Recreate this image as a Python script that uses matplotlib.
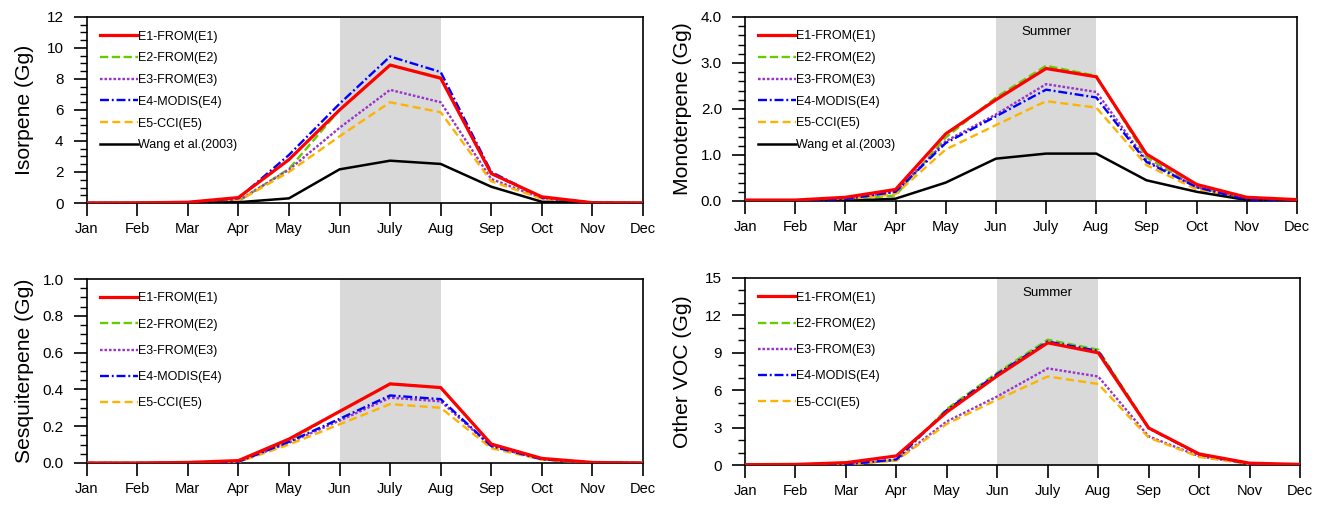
import numpy as np
import matplotlib.pyplot as plt
from matplotlib.ticker import MultipleLocator, FormatStrFormatter

plt.rcParams['font.family'] = ['Liberation Sans', 'DejaVu Sans']

months = ["Jan", "Feb", "Mar", "Apr", "May", "Jun", "July", "Aug", "Sep", "Oct", "Nov", "Dec"]
labels = ["E1-FROM(E1)", "E2-FROM(E2)", "E3-FROM(E3)", "E4-MODIS(E4)", "E5-CCI(E5)", "Wang et al.(2003)"]

# isoprene (Gg)
iso_e1 = [0.0, 0.01, 0.05, 0.35, 2.8, 6.0, 8.9, 8.05, 1.9, 0.4, 0.02, 0.0]
iso_e2 = [0.0, 0.0, 0.03, 0.12, 2.2, 6.0, 8.9, 8.1, 1.9, 0.35, 0.02, 0.0]
iso_e3 = [0.0, 0.0, 0.03, 0.15, 2.15, 4.85, 7.3, 6.5, 1.55, 0.3, 0.01, 0.0]
iso_e4 = [0.0, 0.0, 0.04, 0.3, 3.1, 6.4, 9.45, 8.45, 2.0, 0.35, 0.02, 0.0]
iso_e5 = [0.0, 0.0, 0.03, 0.12, 2.0, 4.3, 6.5, 5.85, 1.4, 0.28, 0.01, 0.0]
iso_wang = [0.0, 0.0, 0.0, 0.05, 0.3, 2.17, 2.73, 2.52, 1.05, 0.08, 0.0, 0.0]

# monoterpene (Gg)
mono_e1 = [0.02, 0.02, 0.08, 0.25, 1.46, 2.2, 2.88, 2.7, 1.02, 0.36, 0.08, 0.03]
mono_e2 = [0.0, 0.0, 0.03, 0.12, 1.38, 2.25, 2.94, 2.72, 0.95, 0.3, 0.05, 0.02]
mono_e3 = [0.0, 0.0, 0.04, 0.2, 1.3, 1.88, 2.54, 2.37, 0.88, 0.3, 0.03, 0.01]
mono_e4 = [0.0, 0.0, 0.04, 0.2, 1.26, 1.84, 2.42, 2.25, 0.85, 0.3, 0.03, 0.01]
mono_e5 = [0.0, 0.0, 0.03, 0.15, 1.12, 1.65, 2.17, 2.03, 0.78, 0.25, 0.02, 0.01]
mono_wang = [0.0, 0.0, 0.0, 0.05, 0.4, 0.92, 1.03, 1.03, 0.45, 0.2, 0.02, 0.0]

# sesquiterpene (Gg)
sesq_e1 = [0.0, 0.0, 0.003, 0.013, 0.13, 0.28, 0.43, 0.41, 0.103, 0.025, 0.003, 0.0]
sesq_e2 = [0.0, 0.0, 0.001, 0.005, 0.12, 0.28, 0.43, 0.41, 0.1, 0.022, 0.002, 0.0]
sesq_e3 = [0.0, 0.0, 0.001, 0.006, 0.11, 0.23, 0.355, 0.335, 0.09, 0.02, 0.002, 0.0]
sesq_e4 = [0.0, 0.0, 0.001, 0.007, 0.115, 0.24, 0.367, 0.347, 0.092, 0.02, 0.002, 0.0]
sesq_e5 = [0.0, 0.0, 0.001, 0.005, 0.1, 0.21, 0.32, 0.3, 0.08, 0.018, 0.001, 0.0]

# other VOC (Gg)
ovoc_e1 = [0.03, 0.05, 0.19, 0.73, 4.25, 7.15, 9.8, 9.0, 2.97, 0.89, 0.15, 0.05]
ovoc_e2 = [0.0, 0.01, 0.05, 0.4, 4.5, 7.4, 10.05, 9.25, 3.0, 0.85, 0.1, 0.03]
ovoc_e3 = [0.0, 0.01, 0.05, 0.4, 3.5, 5.5, 7.75, 7.1, 2.3, 0.7, 0.1, 0.02]
ovoc_e4 = [0.0, 0.01, 0.05, 0.45, 4.4, 7.3, 9.9, 9.15, 2.95, 0.85, 0.1, 0.03]
ovoc_e5 = [0.0, 0.01, 0.04, 0.35, 3.3, 5.25, 7.1, 6.5, 2.2, 0.65, 0.08, 0.02]

styles = [
    dict(color='#ff0000', lw=2.3, ls='-', zorder=6),
    dict(color='#66cc00', lw=1.7, ls=(0, (3.5, 1.5)), zorder=3),
    dict(color='#9933cc', lw=1.7, ls=(0, (1.1, 0.8)), zorder=3),
    dict(color='#0000ff', lw=1.7, ls=(0, (3.8, 1.2, 0.8, 1.2)), zorder=4),
    dict(color='#ffb300', lw=1.7, ls=(0, (3.4, 1.8)), zorder=3),
    dict(color='#000000', lw=1.8, ls='-', zorder=3),
]

panels = [
    dict(series=[iso_e1, iso_e2, iso_e3, iso_e4, iso_e5, iso_wang], ylabel="Isorpene (Gg)",
         ylim=12, major=2, minor=0.5, fmt='%d', summer=False,
         rect=[0.0652, 0.5996, 0.4186, 0.3669], lspace=0.78),
    dict(series=[mono_e1, mono_e2, mono_e3, mono_e4, mono_e5, mono_wang], ylabel="Monoterpene (Gg)",
         ylim=4, major=1, minor=0.2, fmt='%.1f', summer=True,
         rect=[0.5606, 0.6036, 0.4153, 0.3629], lspace=0.78),
    dict(series=[sesq_e1, sesq_e2, sesq_e3, sesq_e4, sesq_e5], ylabel="Sesquiterpene (Gg)",
         ylim=1, major=0.2, minor=0.05, fmt='%.1f', summer=False,
         rect=[0.0652, 0.0868, 0.4186, 0.3629], lspace=1.14),
    dict(series=[ovoc_e1, ovoc_e2, ovoc_e3, ovoc_e4, ovoc_e5], ylabel="Other VOC (Gg)",
         ylim=15, major=3, minor=1, fmt='%d', summer=True,
         rect=[0.5606, 0.0828, 0.4176, 0.3689], lspace=1.14),
]

fig = plt.figure(figsize=(13.29, 5.07), dpi=100)
x = np.arange(len(months))

for p in panels:
    ax = fig.add_axes(p['rect'])
    ax.axvspan(5, 7, color='#d9d9d9', lw=0, zorder=1)
    if p['summer']:
        ax.text(6, 0.92 * p['ylim'], "Summer", ha='center', va='center', fontsize=9.5, zorder=2)
    order = list(range(1, len(p['series']))) + [0]
    for i in order:
        ax.plot(x, p['series'][i], label=labels[i], **styles[i])
    handles, labs = ax.get_legend_handles_labels()
    idx = sorted(range(len(labs)), key=lambda k: labels.index(labs[k]))
    ax.legend([handles[k] for k in idx], [labs[k] for k in idx], loc='upper left',
              bbox_to_anchor=(0.024, 0.927), frameon=False, fontsize=9,
              handlelength=3.05, handletextpad=0.0, labelspacing=p['lspace'],
              borderpad=0, borderaxespad=0)
    ax.set_xlim(0, 11)
    ax.set_ylim(0, p['ylim'])
    ax.set_xticks(x)
    ax.set_xticklabels(months)
    ax.yaxis.set_major_locator(MultipleLocator(p['major']))
    ax.yaxis.set_minor_locator(MultipleLocator(p['minor']))
    ax.yaxis.set_major_formatter(FormatStrFormatter(p['fmt']))
    ax.tick_params(axis='x', which='major', direction='out', length=9.6, width=1.2,
                   labelsize=10.5, pad=4)
    ax.tick_params(axis='y', which='major', direction='out', length=9.6, width=1.2,
                   labelsize=11, pad=7)
    ax.tick_params(axis='y', which='minor', direction='out', length=4.8, width=1.0)
    ax.tick_params(axis='x', which='minor', bottom=False)
    for s in ax.spines.values():
        s.set_linewidth(1.2)
    ax.set_ylabel(p['ylabel'], fontsize=15.2)
    ax.yaxis.set_label_coords(-53.0 / (p['rect'][2] * 1329), 0.5)

fig.savefig("out.png", dpi=100)
